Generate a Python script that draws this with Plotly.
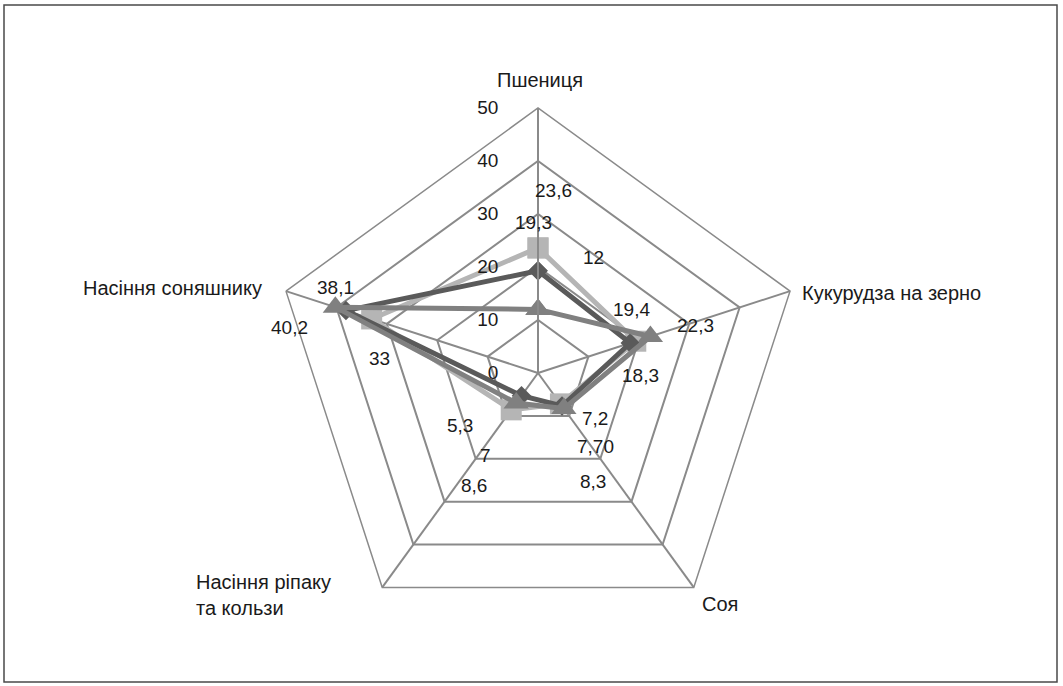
import plotly.graph_objects as go

categories = ["Пшениця", "Кукурудза на зерно", "Соя", "Насіння ріпаку<br>та кользи", "Насіння соняшнику"]
series_diamond = [19.3, 18.3, 7.7, 5.3, 38.1]
series_square = [23.6, 19.4, 7.2, 8.6, 33.0]
series_triangle = [12.0, 22.3, 8.3, 7.0, 40.2]
radial_ticks = [0, 10, 20, 30, 40, 50]

# value labels as shown on the chart (text, x px, y px)
value_labels = [
    ("23,6", 553, 190), ("19,3", 533, 222), ("12", 593, 257),
    ("19,4", 631, 309), ("22,3", 695, 325), ("18,3", 640, 375),
    ("7,2", 595, 418), ("7,70", 595, 446), ("8,3", 593, 481),
    ("5,3", 460, 425), ("7", 485, 455), ("8,6", 474, 485),
    ("38,1", 335, 287), ("40,2", 289, 328), ("33", 379, 358),
]
# category label placement (x px, y px, xanchor)
category_label_pos = [
    (540, 80, "center"),
    (800, 293, "left"),
    (700, 604, "left"),
    (194, 595, "left"),
    (264, 288, "right"),
]

W, H = 1063, 686
FONT = "Liberation Sans, Arial, sans-serif"
TXT = "#1a1a1a"

def closed(v):
    return list(v) + [v[0]]

theta = closed(categories)

fig = go.Figure()
fig.add_trace(go.Scatterpolar(
    r=closed(series_square), theta=theta, mode="lines+markers",
    line=dict(color="#b5b5b5", width=5),
    marker=dict(symbol="square", size=21, color="#b5b5b5"),
    showlegend=False,
))
fig.add_trace(go.Scatterpolar(
    r=closed(series_diamond), theta=theta, mode="lines+markers",
    line=dict(color="#5a5a5a", width=5),
    marker=dict(symbol="diamond", size=15, color="#5a5a5a"),
    showlegend=False,
))
fig.add_trace(go.Scatterpolar(
    r=closed(series_triangle), theta=theta, mode="lines+markers",
    line=dict(color="#808080", width=5),
    marker=dict(symbol="triangle-up", size=22, color="#808080"),
    showlegend=False,
))

cx, cy, R = 538, 373, 265
fig.update_layout(
    width=W, height=H,
    margin=dict(l=0, r=0, t=0, b=0),
    paper_bgcolor="white",
    font=dict(family=FONT, size=19, color=TXT),
    polar=dict(
        domain=dict(x=[(cx - R) / W, (cx + R) / W], y=[(H - cy - R) / H, (H - cy + R) / H]),
        gridshape="linear",
        bgcolor="white",
        radialaxis=dict(
            range=[0, 50], tickvals=radial_ticks, ticktext=[str(t) for t in radial_ticks],
            angle=90, tickangle=90, side="counterclockwise",
            showline=True, linecolor="#8a8a8a", linewidth=2,
            gridcolor="#8a8a8a", gridwidth=1.5,
            ticks="outside", ticklen=32, tickcolor="rgba(0,0,0,0)",
            tickfont=dict(family=FONT, size=19, color=TXT),
        ),
        angularaxis=dict(
            direction="clockwise", rotation=90,
            showline=True, linecolor="#8a8a8a", linewidth=1.5,
            gridcolor="#8a8a8a", gridwidth=1.5,
            ticks="", showticklabels=False,
        ),
    ),
    shapes=[dict(type="rect", xref="paper", yref="paper",
                 x0=4 / W, x1=1057 / W, y0=1 - 682 / H, y1=1 - 5 / H,
                 line=dict(color="#4a4a4a", width=1.5))],
)

for name, (x, y, xa) in zip(categories, category_label_pos):
    fig.add_annotation(text=name, x=x / W, y=1 - y / H, xref="paper", yref="paper",
                       showarrow=False, xanchor=xa, yanchor="middle", align="left",
                       font=dict(family=FONT, size=20, color=TXT))

for txt, x, y in value_labels:
    fig.add_annotation(text=txt, x=x / W, y=1 - y / H, xref="paper", yref="paper",
                       showarrow=False, xanchor="center", yanchor="middle",
                       font=dict(family=FONT, size=19, color=TXT))

fig.write_html("out.html", config={"displayModeBar": False},
               post_script="document.body.style.margin='0';document.body.style.overflow='hidden';")
